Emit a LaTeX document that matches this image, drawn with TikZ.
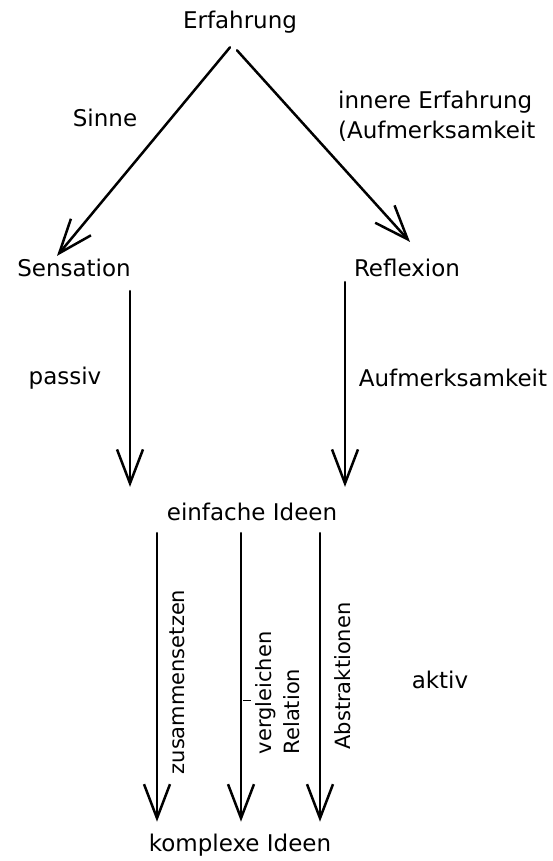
\documentclass[tikz,border=0pt]{standalone}
\usepackage{fontspec}
\setmainfont{DejaVu Sans}
\usetikzlibrary{positioning,calc,arrows.meta}
\tikzset{%
  arrow/.style = {
    -{Straight Barb[length=34pt,width=26pt]},
    line width = 2.5pt,
    line cap = round,
    draw = black,
  },
  word/.style = {
    inner sep = 0pt,
    font = \fontsize{23}{30}\selectfont,
    align = #1,
  },
  word/.default = {center},
  turned/.style = {
    word = left,
    font = \fontsize{21}{28}\selectfont,
    rotate = 90,
  },
}

\begin{document}
\begin{tikzpicture}[x=1pt, y=-1pt]
  \useasboundingbox (0,0) rectangle (552,861);

  % main stations
  \node[word] (erf)   at (240,22)  {Erfahrung};
  \node[word] (sens)  at (74,268)  {Sensation};
  \node[word] (refl)  at (407,268) {Reflexion};
  \node[word] (einf)  at (252,512) {einfache Ideen};
  \node[word] (kompl) at (240,845) {komplexe Ideen};

  % side labels
  \node[word] (sinne)   at (105,118) {Sinne};
  \node[word=left, anchor=west] (innere) at (338,116)
    {innere Erfahrung\\(Aufmerksamkeit};
  \node[word] (passiv)  at (65,378)  {passiv};
  \node[word] (aufm)    at (453,378) {Aufmerksamkeit};
  \node[word] (aktiv)   at (440,680) {aktiv};

  % Erfahrung splits
  \draw[arrow] ($(erf.south)+(-10,14)$) -- ($(sens.north)+(-17,-3)$);
  \draw[arrow] ($(erf.south)+(-3,17)$) -- ($(refl.north)+(3,-17)$);

  % down to einfache Ideen
  \coordinate (s1) at ($(sens.south)+(56,14)$);
  \coordinate (r1) at ($(refl.south)+(-62,5)$);
  \draw[arrow, shorten > = 16pt] (s1) -- (s1 |- einf.north);
  \draw[arrow, shorten > = 16pt] (r1) -- (r1 |- einf.north);

  % down to komplexe Ideen
  \foreach \dx/\nm in {-95/e1, -11/e2, 68/e3} {
    \coordinate (\nm) at ($(einf.south)+(\dx,12)$);
    \draw[arrow, shorten > = 12pt] (\nm) -- (\nm |- kompl.north);
  }
  \draw[line width = 1.2pt] ($(e2)+(2,167)$) -- ++(8,0);

  \node[turned] (zus)  at (177,682) {zusammensetzen};
  \node[turned] (verg) at (278,693) {vergleichen\\Relation};
  \node[turned] (abst) at (343,676) {Abstraktionen};
\end{tikzpicture}
\end{document}
